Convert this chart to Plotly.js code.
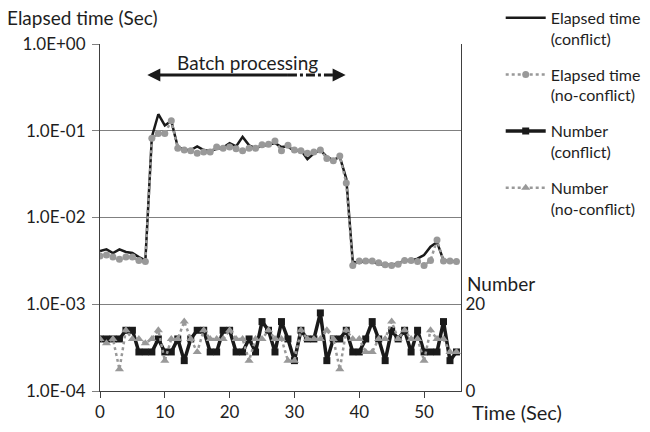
<!DOCTYPE html>
<html><head><meta charset="utf-8">
<script src="https://cdn.plot.ly/plotly-3.0.1.min.js"></script>
<style>html,body{margin:0;padding:0;background:#fff;} #chart{width:650px;height:432px;}</style>
</head><body><div id="chart"></div>
<script>
const timeSec = [0,1,2,3,4,5,6,7,8,9,10,11,12,13,14,15,16,17,18,19,20,21,22,23,24,25,26,27,
  28,29,30,31,32,33,34,35,36,37,38,39,40,41,42,43,44,45,46,47,48,49,50,51,52,53,54,55];

const elapsedConflict = [
  0.0041,0.0043,0.0039,0.0043,0.0040,0.0039,0.0035,0.0032,
  0.085,0.155,0.115,0.13,0.065,0.060,0.060,0.066,
  0.060,0.058,0.062,0.064,0.072,0.066,0.085,0.068,
  0.063,0.067,0.069,0.072,0.065,0.066,0.058,0.060,
  0.047,0.055,0.060,0.050,0.046,0.050,0.028,0.0031,
  0.0030,0.0032,0.0031,0.0029,0.00285,0.00285,0.00295,0.0032,
  0.0032,0.00335,0.0037,0.0046,0.0052,0.0032,0.00315,0.0031];

const elapsedNoConflict = [
  0.0036,0.0037,0.0035,0.0033,0.0035,0.0035,0.0032,0.0031,
  0.082,0.093,0.093,0.13,0.063,0.060,0.059,0.055,
  0.057,0.057,0.065,0.063,0.065,0.062,0.059,0.063,
  0.063,0.069,0.070,0.076,0.059,0.068,0.060,0.059,
  0.055,0.057,0.060,0.048,0.045,0.051,0.025,0.0028,
  0.00315,0.00315,0.00315,0.0030,0.00285,0.0028,0.0029,0.0032,
  0.0032,0.0031,0.0028,0.0032,0.0055,0.00315,0.00315,0.0031];

const numberConflict = [
  12,12,12,12,14,14,9,9,
  9,12,9,9,12,7,12,14,
  14,9,9,14,14,9,9,12,
  9,16,14,9,16,12,7,14,
  12,12,18,7,12,12,14,9,
  9,12,16,12,7,14,12,14,
  9,14,9,9,9,16,7,9];

const numberNoConflict = [
  12,11,12,5,14,12,12,11,
  12,14,7,12,12,16,12,9,
  14,12,12,12,14,12,12,7,
  12,12,14,12,12,7,7,14,
  12,12,12,14,12,5,14,12,
  12,9,9,12,12,16,12,14,
  12,12,7,14,12,12,9,9];

const leftTickVals = [0.0001,0.001,0.01,0.1,1];
const leftTickText = ['1.0E-04','1.0E-03','1.0E-02','1.0E-01','1.0E+00'];
const xTickVals = [0,10,20,30,40,50];
const rightTickVals = [0,20];

const seriesNames = ['Elapsed time<br>(conflict)','Elapsed time<br>(no-conflict)','Number<br>(conflict)','Number<br>(no-conflict)'];

const FONT = 'Lato, "Liberation Sans", Arial, sans-serif';
const BLACK = '#1a1a1a', GRAY = '#999999', TXT = '#1e1e1e';

const traces = [
  {x: timeSec, y: elapsedConflict, name: seriesNames[0], legendgroup:'a', mode:'lines',
   line:{color:BLACK, width:2.5}, yaxis:'y'},
  {x: timeSec, y: elapsedNoConflict, name: seriesNames[1], legendgroup:'b', mode:'lines+markers',
   line:{color:GRAY, width:2.5, dash:'dot'}, marker:{symbol:'circle', size:7, color:GRAY}, yaxis:'y'},
  {x: timeSec, y: numberConflict, name: seriesNames[2], legendgroup:'c', mode:'lines+markers',
   line:{color:BLACK, width:3.5}, marker:{symbol:'square', size:7, color:BLACK}, yaxis:'y2'},
  {x: timeSec, y: numberNoConflict, name: seriesNames[3], legendgroup:'d', mode:'lines+markers',
   line:{color:GRAY, width:2.5, dash:'dot'}, marker:{symbol:'triangle-up', size:8, color:GRAY}, yaxis:'y2'}
];

const layout = {
  width:650, height:432,
  margin:{l:100, r:189, t:44, b:41, pad:0, autoexpand:false},
  paper_bgcolor:'#fff', plot_bgcolor:'#fff',
  font:{family:FONT, size:16, color:TXT},
  showlegend:true,
  legend:{x:1.11, y:1.124, xanchor:'left', yanchor:'top', valign:'top', itemwidth:40,
    tracegroupgap:12, font:{family:FONT, size:16, color:TXT}, bgcolor:'rgba(0,0,0,0)'},
  xaxis:{range:[0,55.7], tickvals:xTickVals, ticks:'outside', ticklen:6, tickcolor:'#404040',
    showline:true, linecolor:'#404040', linewidth:1, showgrid:false, zeroline:false,
    tickfont:{family:FONT, size:17, color:TXT}},
  yaxis:{type:'log', range:[-4,0], tickvals:leftTickVals, ticktext:leftTickText,
    ticks:'outside', ticklen:7, tickcolor:'#808080', ticklabelstandoff:3, showline:true, linecolor:'#404040', linewidth:1,
    showgrid:true, gridcolor:'#808080', gridwidth:1, zeroline:false,
    tickfont:{family:FONT, size:17, color:TXT}},
  yaxis2:{overlaying:'y', side:'right', range:[0,80], tickvals:rightTickVals, ticks:'',
    showline:true, linecolor:'#404040', linewidth:1, showgrid:false, zeroline:false,
    tickfont:{family:FONT, size:17, color:TXT}},
  shapes:[
    {type:'line', xref:'x', yref:'paper', x0:8.5, x1:29, y0:0.911, y1:0.911, line:{color:BLACK, width:3}},
    {type:'line', xref:'x', yref:'paper', x0:29, x1:37, y0:0.911, y1:0.911, line:{color:BLACK, width:3, dash:'dashdot'}}
  ],
  annotations:[
    {text:'Elapsed time (Sec)', xref:'paper', yref:'paper', x:-0.263, y:1.075, xanchor:'left', yanchor:'middle', showarrow:false, font:{size:19}},
    {text:'Number', xref:'paper', yref:'paper', x:1.012, y:0.311, xanchor:'left', yanchor:'middle', showarrow:false, font:{size:19}},
    {text:'Time (Sec)', xref:'paper', yref:'paper', x:1.026, y:-0.06, xanchor:'left', yanchor:'middle', showarrow:false, font:{size:20}},
    {text:'Batch processing', xref:'x', yref:'paper', x:22.7, y:0.948, xanchor:'center', yanchor:'middle', showarrow:false, font:{size:19}},
    {text:'', xref:'x', yref:'paper', x:7.3, y:0.911, showarrow:true, ax:14, ay:0, arrowhead:2, arrowsize:1, arrowwidth:2.6, arrowcolor:BLACK},
    {text:'', xref:'x', yref:'paper', x:37.9, y:0.911, showarrow:true, ax:-14, ay:0, arrowhead:2, arrowsize:1, arrowwidth:2.6, arrowcolor:BLACK}
  ]
};

Plotly.newPlot('chart', traces, layout, {displayModeBar:false, staticPlot:true});
</script>
</body></html>
